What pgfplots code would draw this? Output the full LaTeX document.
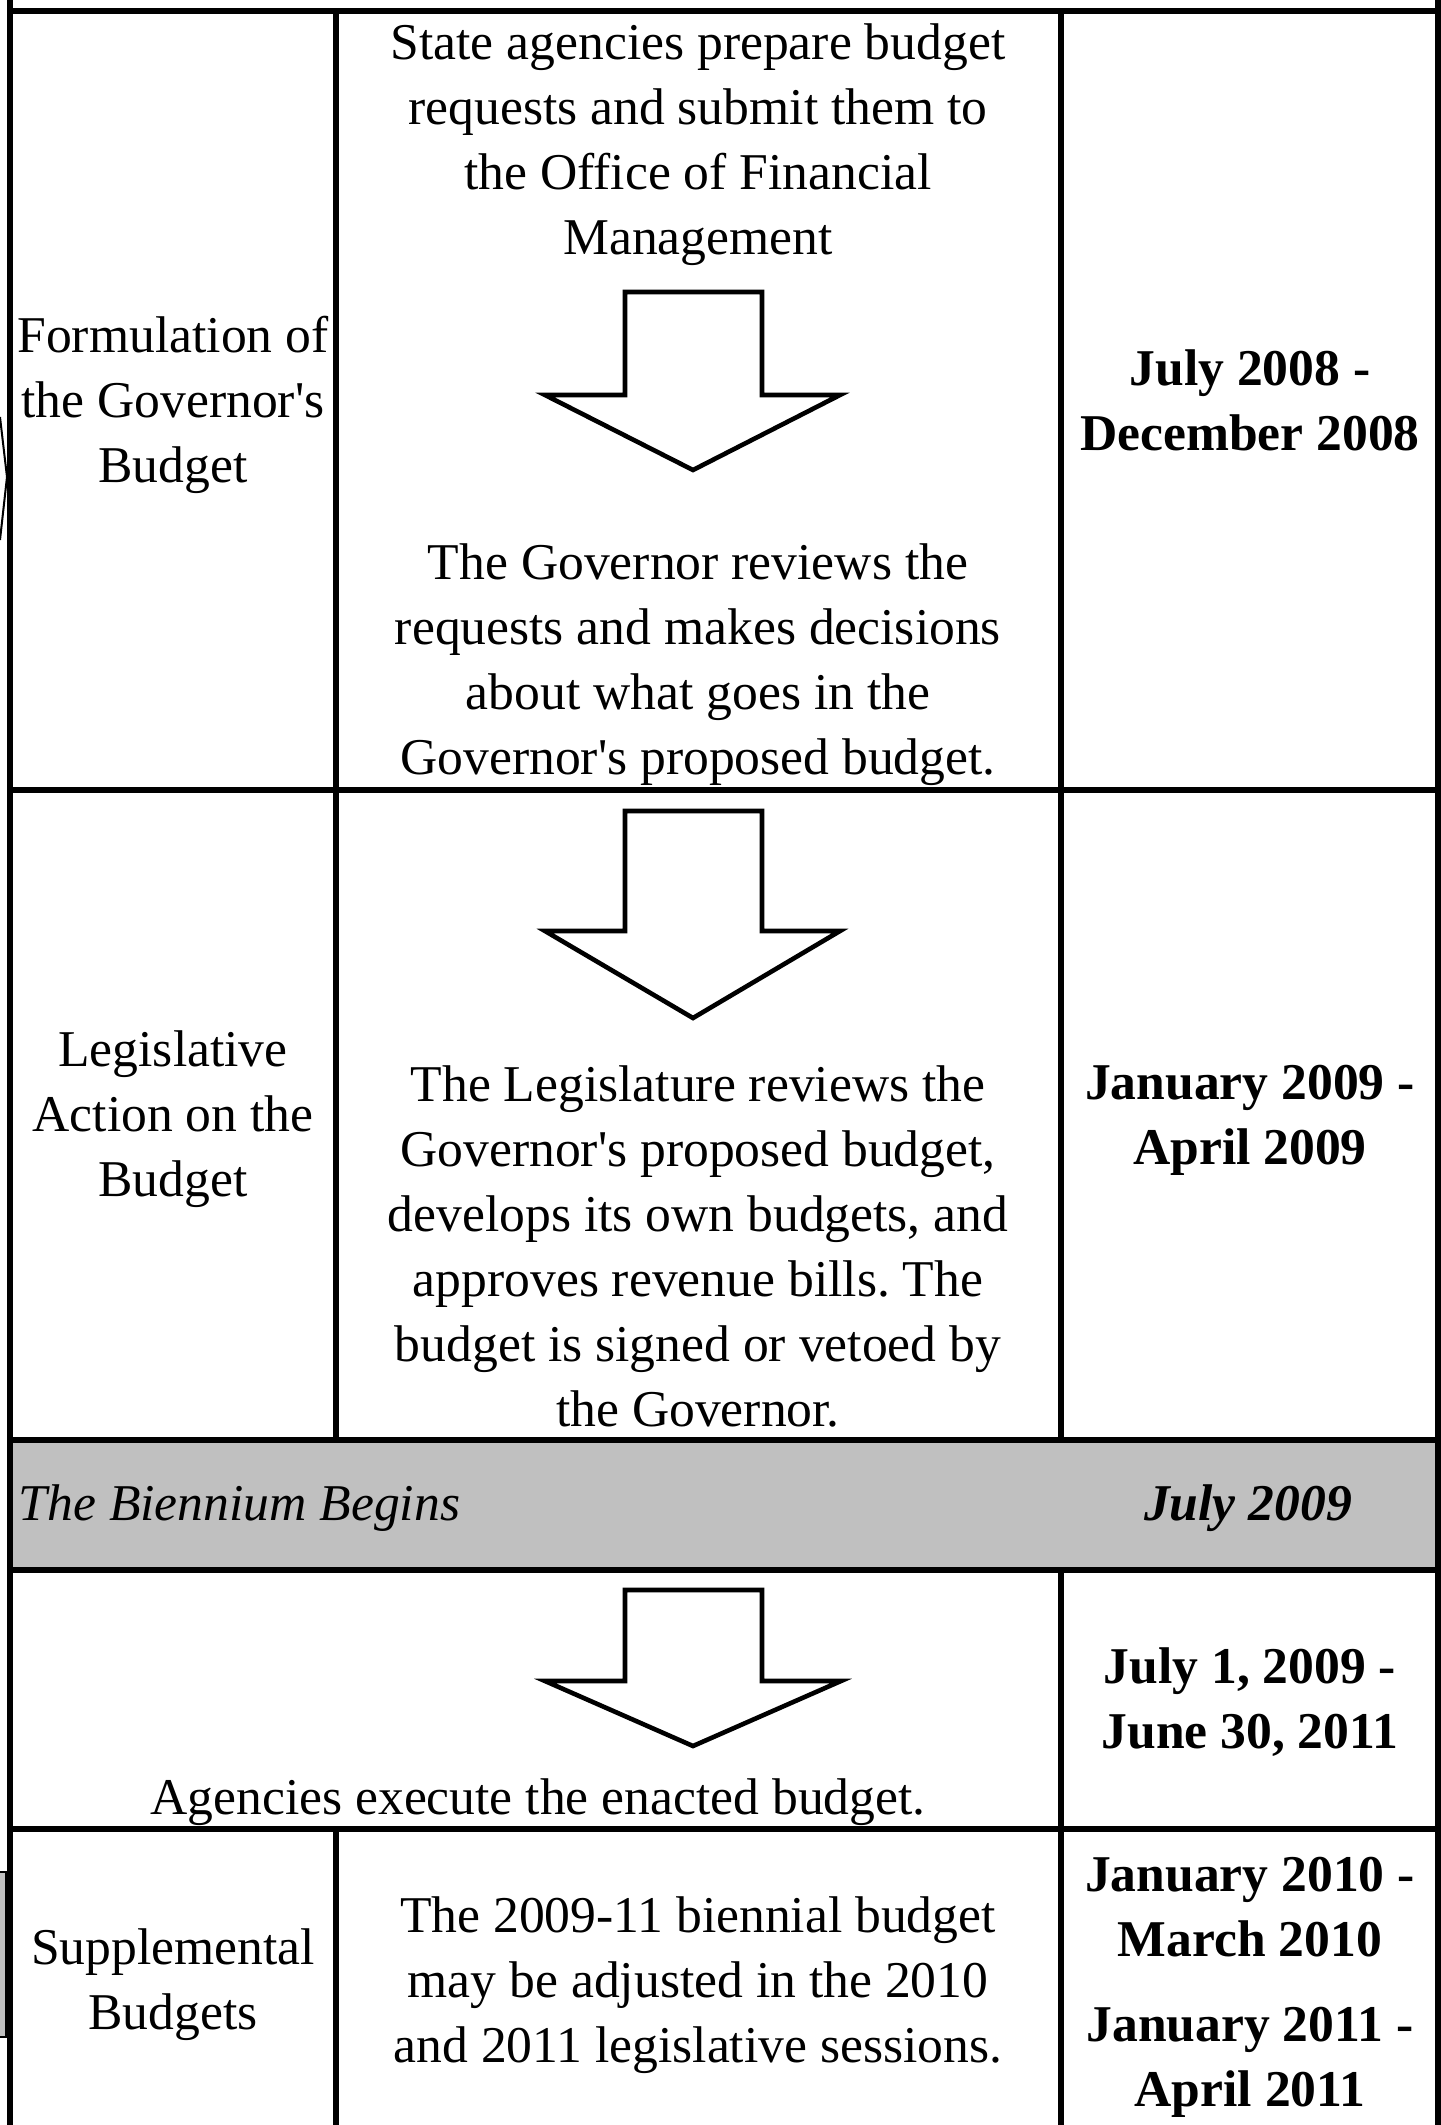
\documentclass[border=0pt]{standalone}
\usepackage{fontspec}
\setmainfont{Liberation Serif}[Ligatures=TeXOff]
\usepackage{pgfplots}
\pgfplotsset{compat=1.18}
\definecolor{bandgray}{HTML}{C0C0C0}
\frenchspacing
\tikzset{
  txt/.style={inner sep=0pt, align=center, font=\fontsize{12.9}{16.25}\selectfont},
  btxt/.style={inner sep=0pt, align=center, font=\fontsize{12.9}{16.25}\selectfont\bfseries},
  tl/.style={black, solid, mark=none, line width=1.4pt, line cap=rect},
  arr/.style={black, solid, mark=none, fill=white, line width=1.15pt, line join=miter},
}
\begin{document}
\begin{tikzpicture}
\begin{axis}[
  width=360.25pt, height=531.25pt, scale only axis,
  xmin=0, xmax=1441, ymin=0, ymax=2125, y dir=reverse,
  hide axis, clip=true,
]
% grey band
\addplot[fill=bandgray, draw=none, mark=none] coordinates {(10,1440) (1438,1440) (1438,1570) (10,1570)} -- cycle;
% left edge fragments
\addplot[black, mark=none, line width=0.5pt] coordinates {(0,417) (7,477) (0,540)};
\addplot[black, mark=none, fill=bandgray, line width=0.5pt] coordinates {(-2,1872) (6,1872) (6,2037) (-2,2037)} -- cycle;
% borders
\addplot[tl] coordinates {(10,0) (10,2125)};
\addplot[tl] coordinates {(1438,0) (1438,2125)};
\addplot[tl] coordinates {(10,11) (1438,11)};
\addplot[tl] coordinates {(10,790) (1438,790)};
\addplot[tl] coordinates {(10,1440) (1438,1440)};
\addplot[tl] coordinates {(10,1570) (1438,1570)};
\addplot[tl] coordinates {(10,1829) (1438,1829)};
\addplot[tl] coordinates {(336,11) (336,1440)};
\addplot[tl] coordinates {(336,1829) (336,2125)};
\addplot[tl] coordinates {(1061,11) (1061,1440)};
\addplot[tl] coordinates {(1061,1570) (1061,2125)};
% arrows
\addplot[arr] coordinates {(625,292) (762,292) (762,395) (840,395) (693,470) (545,395) (625,395)} -- cycle;
\addplot[arr] coordinates {(625,811) (762,811) (762,931) (840,931) (693,1018) (545,931) (625,931)} -- cycle;
\addplot[arr] coordinates {(625,1590) (762,1590) (762,1681) (841,1681) (693,1746) (545,1681) (625,1681)} -- cycle;
% column 1
\node[txt] at (axis cs:173,405) {Formulation of\\the Governor's\\Budget};
\node[txt] at (axis cs:173,1119) {Legislative\\Action on the\\Budget};
\node[txt] at (axis cs:173,1985) {Supplemental\\Budgets};
% column 2
\node[txt] at (axis cs:698,145) {State agencies prepare budget\\requests and submit them to\\the Office of Financial\\Management};
\node[txt] at (axis cs:698,665) {The Governor reviews the\\requests and makes decisions\\about what goes in the\\Governor's proposed budget.};
\node[txt] at (axis cs:698,1246) {The Legislature reviews the\\Governor's proposed budget,\\develops its own budgets, and\\approves revenue bills. The\\budget is signed or vetoed by\\the Governor.};
\node[txt] at (axis cs:538,1802) {Agencies execute the enacted budget.};
\node[txt] at (axis cs:698,1985) {The 2009-11 biennial budget\\may be adjusted in the 2010\\and 2011 legislative sessions.};
% column 3
\node[btxt] at (axis cs:1250,400) {July 2008 -\\December 2008};
\node[btxt] at (axis cs:1250,1120) {January 2009 -\\April 2009};
\node[btxt] at (axis cs:1250,1702) {July 1, 2009 -\\June 30, 2011};
\node[btxt] at (axis cs:1250,1907) {January 2010 -\\March 2010};
\node[btxt] at (axis cs:1250,2062) {January 2011 -\\April 2011};
% band
\node[txt, anchor=west, font=\fontsize{12.9}{16.25}\selectfont\itshape] at (axis cs:18,1508) {The Biennium Begins};
\node[txt, font=\fontsize{12.9}{16.25}\selectfont\bfseries\itshape] at (axis cs:1248,1508) {July 2009};
\end{axis}
\end{tikzpicture}
\end{document}
